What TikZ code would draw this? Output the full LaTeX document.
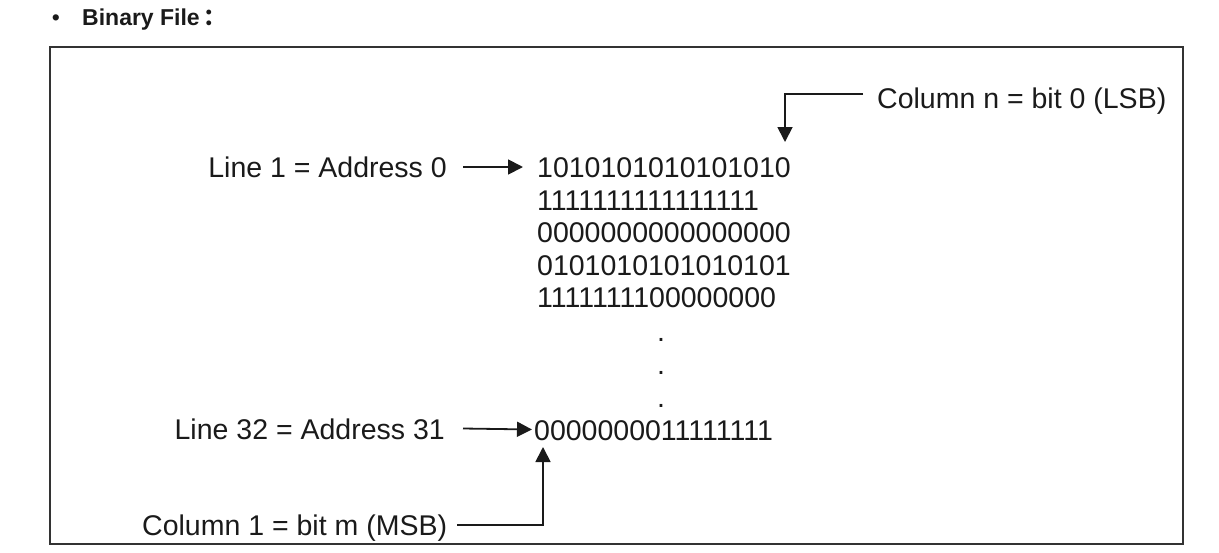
\documentclass[tikz,border=0pt]{standalone}
\usepackage{fontspec}
\setmainfont{Liberation Sans}
\newfontfamily\cjk{Noto Sans CJK SC}
\usetikzlibrary{arrows.meta}
\definecolor{ink}{HTML}{1A1A1A}
\definecolor{frame}{HTML}{333333}
\tikzset{
  txt/.style={inner sep=0pt, text=ink, font=\fontsize{28.5}{34}\selectfont},
  ttl/.style={inner sep=0pt, text=ink, font=\fontsize{23}{28}\selectfont\bfseries},
  conn/.style={draw=ink, line width=1.8pt, -{Triangle[length=15pt,width=15pt]}},
  boxframe/.style={draw=frame, line width=2.2pt}
}
\begin{document}
\begin{tikzpicture}[x=1pt,y=-1pt]
\useasboundingbox (0,0) rectangle (1219,552);
% frame
\draw[boxframe] (50,47) rectangle (1183,544);
% title
\node[ttl, anchor=base] (bul) at (56,25) {\mdseries•};
\node[ttl, anchor=base west] (title) at (82,25) {Binary File\,\cjk{：}};
% rows
\node[txt, anchor=base west] (r1) at (537,177.5) {1010101010101010};
\node[txt, anchor=base west] (r2) at (537,210) {1111111111111111};
\node[txt, anchor=base west] (r3) at (537,242.5) {0000000000000000};
\node[txt, anchor=base west] (r4) at (537,275) {0101010101010101};
\node[txt, anchor=base west] (r5) at (537,307.5) {1111111100000000};
\node[txt, anchor=base] (d1) at (661,341) {.};
\node[txt, anchor=base] (d2) at (661,374.5) {.};
\node[txt, anchor=base] (d3) at (661,407.5) {.};
\node[txt, anchor=base west] (rL) at (534,440) {0000000011111111};
% labels
\node[txt, anchor=base east] (l1) at (447,177.5) {Line 1 = Address 0};
\node[txt, anchor=base east] (lL) at (445,439) {Line 32 = Address 31};
\node[txt, anchor=base west] (c1) at (142,535) {Column 1 = bit m (MSB)};
\node[txt, anchor=base west] (cn) at (877,108) {Column n = bit 0 (LSB)};
% connectors
\draw[conn] ([xshift=16pt,yshift=10.5pt]l1.base east) -- ([xshift=-14pt,yshift=10.5pt]r1.base west);
\draw[conn] ([xshift=18pt,yshift=10.5pt]lL.base east) -- ([xshift=-2pt,yshift=10.5pt]rL.base west);
\draw[conn] ([xshift=-14pt,yshift=14pt]cn.base west) -| ([xshift=-6pt,yshift=35.5pt]r1.base east);
\draw[conn] ([xshift=10pt,yshift=10pt]c1.base east) -| ([xshift=9pt,yshift=-7pt]rL.base west);
\end{tikzpicture}
\end{document}
